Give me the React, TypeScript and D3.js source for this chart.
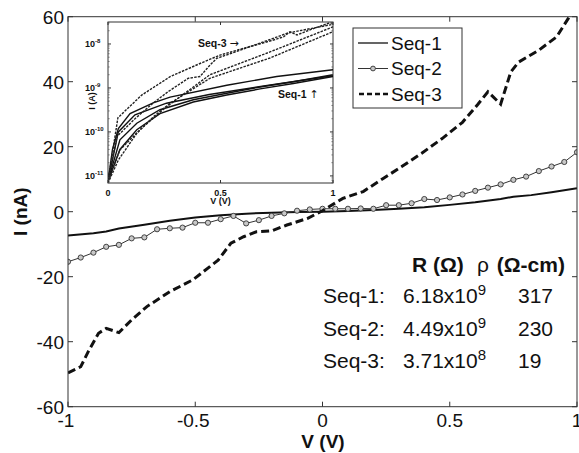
import React from 'react';
import * as d3 from 'd3';

// ---------- main plot data (V in volts, I in nA) ----------
const seq1V = [-1, -0.9, -0.85, -0.8, -0.7, -0.6, -0.5, -0.4, -0.3, -0.2, -0.1, 0, 0.1, 0.2, 0.3, 0.4, 0.5, 0.6, 0.7, 0.75, 0.82, 0.9, 1];
const seq1I = [-7.3, -6.6, -6.1, -5.2, -4.0, -2.8, -1.8, -1.1, -0.6, -0.3, -0.1, 0, 0.2, 0.5, 0.9, 1.4, 2.1, 2.9, 3.9, 4.6, 5.1, 6.0, 7.2];

const seq2V = [-1, -0.95, -0.9, -0.85, -0.8, -0.75, -0.7, -0.65, -0.6, -0.55, -0.5, -0.45, -0.4, -0.35, -0.3, -0.25, -0.2, -0.15, -0.1, -0.05, 0, 0.05, 0.1, 0.15, 0.2, 0.25, 0.3, 0.35, 0.4, 0.45, 0.5, 0.55, 0.6, 0.65, 0.7, 0.75, 0.8, 0.85, 0.9, 0.95, 1];
const seq2I = [-15.4, -14.1, -12.6, -10.8, -10.2, -8.2, -7.9, -5.4, -5.1, -4.9, -3.4, -3.4, -2.3, -1.3, -3.6, -2.6, -1.3, -0.5, 0.3, 0.7, 0.9, 0.9, 0.9, 1.0, 0.9, 2.0, 2.0, 2.6, 3.9, 3.6, 4.4, 5.3, 6.4, 7.4, 8.4, 9.8, 10.8, 12.5, 13.9, 15.3, 18.3];

const seq3V = [-1, -0.95, -0.92, -0.88, -0.85, -0.8, -0.75, -0.69, -0.6, -0.51, -0.41, -0.36, -0.31, -0.26, -0.2, -0.14, -0.06, 0, 0.08, 0.16, 0.24, 0.31, 0.39, 0.47, 0.55, 0.61, 0.65, 0.7, 0.74, 0.77, 0.85, 0.92, 0.97, 0.99];
const seq3I = [-49.6, -47.7, -43, -37.4, -35.9, -37.2, -33.3, -29.2, -24.6, -21, -14.9, -9.7, -7.7, -6.2, -5.9, -4.1, -2.1, 0.3, 4.1, 6.2, 10.3, 13.8, 18, 22.5, 27.5, 33, 36.9, 33.1, 43, 46, 49.7, 53.8, 60, 63];

const xTicks = [-1, -0.5, 0, 0.5, 1];
const yTicks = [-60, -40, -20, 0, 20, 40, 60];

// ---------- inset data (V in volts, I in A, log scale) ----------
const insD1V = [0, 0.044, 0.15, 0.276, 0.409, 0.498, 0.601, 0.735, 0.78, 0.809, 0.84, 0.898, 0.979, 1.0];
const insD1I = [7.4e-12, 2.1e-10, 6.9e-10, 1.8e-9, 3.6e-9, 5.6e-9, 7.9e-9, 1.23e-8, 1.45e-8, 1.9e-8, 1.6e-8, 2.1e-8, 2.95e-8, 3.0e-8];
const insD2V = [0, 0.04, 0.12, 0.2, 0.268, 0.357, 0.409, 0.453, 0.483, 0.6, 0.8, 1.0];
const insD2I = [7.4e-12, 7.9e-11, 2.0e-10, 4.5e-10, 8.3e-10, 1.66e-9, 1.82e-9, 3.3e-9, 4.7e-9, 7.6e-9, 1.78e-8, 2.8e-8];
const insD3V = [0, 0.053, 0.142, 0.253, 0.453, 0.72, 1.0];
const insD3I = [7.4e-12, 3.9e-11, 1.12e-10, 3.5e-10, 2.0e-9, 6.6e-9, 2.45e-8];
const insD4V = [0, 0.046, 0.128, 0.201, 0.276, 0.453, 0.72, 1.0];
const insD4I = [6.9e-12, 2.3e-11, 9.3e-11, 2.2e-10, 4.5e-10, 1.66e-9, 4.8e-9, 1.9e-8];

const insS1V = [0, 0.02, 0.046, 0.098, 0.201, 0.276, 0.528, 0.75, 1.0];
const insS1I = [7.4e-12, 4.0e-11, 1.2e-10, 2.6e-10, 4.6e-10, 6.2e-10, 1.15e-9, 1.82e-9, 2.6e-9];
const insS2V = [0, 0.053, 0.128, 0.231, 0.379, 0.528, 0.676, 0.824, 1.0];
const insS2I = [7.6e-12, 6.6e-11, 1.58e-10, 3.2e-10, 5.4e-10, 7.6e-10, 1.05e-9, 1.38e-9, 2.0e-9];
const insS3V = [0, 0.053, 0.128, 0.231, 0.379, 0.528, 0.676, 0.824, 1.0];
const insS3I = [7.6e-12, 4.0e-11, 1.12e-10, 2.6e-10, 4.8e-10, 6.9e-10, 9.5e-10, 1.26e-9, 1.82e-9];
const insS4V = [0, 0.046, 0.12, 0.26, 0.45, 0.7, 1.0];
const insS4I = [7.6e-12, 1.0e-10, 2.45e-10, 4.5e-10, 7.1e-10, 1.12e-9, 1.9e-9];

const insXTicks = [0, 0.5, 1];
const insYDecades = [-11, -10, -9, -8];

// ---------- text ----------
const legendLabels = ['Seq-1', 'Seq-2', 'Seq-3'];
const tableNames = ['Seq-1:', 'Seq-2:', 'Seq-3:'];
const tableRMant = ['6.18x10', '4.49x10', '3.71x10'];
const tableRExp = ['9', '9', '8'];
const tableRho = ['317', '230', '19'];

const FONT = 'Liberation Sans, Arial, Helvetica, sans-serif';

function zip(a: number[], b: number[]): [number, number][] {
  return a.map((v, i) => [v, b[i]]);
}

export default function App() {
  const W = 579, H = 453;
  const L = 68, R = 577, T = 16.7, B = 406.7;
  const x = d3.scaleLinear().domain([-1, 1]).range([L, R]);
  const y = d3.scaleLinear().domain([-60, 60]).range([B, T]);
  const line = d3.line<[number, number]>().x(d => x(d[0])).y(d => y(d[1]));

  // inset
  const iL = 108, iR = 333, iT = 22, iB = 183;
  const ix = d3.scaleLinear().domain([0, 1]).range([iL, iR]);
  const iy = d3.scaleLog().domain([6.9e-12, 3.16e-8]).range([iB, iT]);
  const iline = d3.line<[number, number]>().x(d => ix(d[0])).y(d => iy(d[1]));

  const minor: number[] = [];
  for (let e = -12; e <= -8; e++) {
    for (let m = 2; m <= 9; m++) {
      const v = m * Math.pow(10, e);
      if (v > 6.9e-12 && v < 3.16e-8) minor.push(v);
    }
  }

  const dashedIns = [zip(insD1V, insD1I), zip(insD2V, insD2I), zip(insD3V, insD3I), zip(insD4V, insD4I)];
  const solidIns = [zip(insS1V, insS1I), zip(insS2V, insS2I), zip(insS3V, insS3I), zip(insS4V, insS4I)];

  const s2 = zip(seq2V, seq2I);

  return (
    <svg width={W} height={H} style={{ position: 'absolute', left: 0, top: 0, background: '#fff' }} fontFamily={FONT}>
      <defs>
        <clipPath id="mainClip"><rect x={L} y={T} width={R - L} height={B - T} /></clipPath>
        <clipPath id="insClip"><rect x={iL} y={iT} width={iR - iL} height={iB - iT} /></clipPath>
      </defs>
      <rect x={0} y={0} width={W} height={H} fill="#fff" />

      {/* main series */}
      <g clipPath="url(#mainClip)">
        <path d={line(zip(seq1V, seq1I)) || ''} fill="none" stroke="#111" strokeWidth={2} />
        <path d={line(s2) || ''} fill="none" stroke="#333" strokeWidth={1} />
        {s2.map((d, i) => (
          <circle key={i} cx={x(d[0])} cy={y(d[1])} r={2.6} fill="#c8c8c8" stroke="#333" strokeWidth={0.9} />
        ))}
        <path d={line(zip(seq3V, seq3I)) || ''} fill="none" stroke="#111" strokeWidth={3} strokeDasharray="8,4" />
      </g>

      {/* main frame + ticks */}
      <rect x={L} y={T} width={R - L} height={B - T} fill="none" stroke="#333" strokeWidth={1} />
      {xTicks.map(t => (
        <g key={'xt' + t}>
          <line x1={x(t)} x2={x(t)} y1={B} y2={B - 5} stroke="#333" />
          <line x1={x(t)} x2={x(t)} y1={T} y2={T + 5} stroke="#333" />
          <text x={x(t) - (t < 0 ? 2 : 0)} y={427} fontSize={19} textAnchor="middle" fill="#111">{String(t)}</text>
        </g>
      ))}
      {yTicks.map(t => (
        <g key={'yt' + t}>
          <line x1={L} x2={L + 5} y1={y(t)} y2={y(t)} stroke="#333" />
          <line x1={R} x2={R - 5} y1={y(t)} y2={y(t)} stroke="#333" />
          <text x={64} y={y(t) + 6.8} fontSize={19} textAnchor="end" fill="#111">{String(t)}</text>
        </g>
      ))}
      <text x={323} y={448} fontSize={19} fontWeight="bold" textAnchor="middle" fill="#111">V (V)</text>
      <text transform="translate(27,211.7) rotate(-90)" fontSize={19} fontWeight="bold" textAnchor="middle" fill="#111">I (nA)</text>

      {/* inset */}
      <rect x={iL} y={iT} width={iR - iL} height={iB - iT} fill="#fff" stroke="#333" strokeWidth={1} />
      <g clipPath="url(#insClip)">
        {solidIns.map((d, i) => (
          <path key={'s' + i} d={iline(d) || ''} fill="none" stroke="#111" strokeWidth={1.4} />
        ))}
        {dashedIns.map((d, i) => (
          <path key={'d' + i} d={iline(d) || ''} fill="none" stroke="#222" strokeWidth={1.4} strokeDasharray="2.5,1.2" />
        ))}
      </g>
      {insXTicks.map(t => (
        <g key={'ixt' + t}>
          <line x1={ix(t)} x2={ix(t)} y1={iB} y2={iB - 3} stroke="#333" />
          <line x1={ix(t)} x2={ix(t)} y1={iT} y2={iT + 3} stroke="#333" />
          <text x={ix(t)} y={196} fontSize={9} fontWeight="bold" textAnchor="middle" fill="#111">{String(t)}</text>
        </g>
      ))}
      {insYDecades.map(e => {
        const yy = iy(Math.pow(10, e));
        return (
          <g key={'iyt' + e}>
            <line x1={iL} x2={iL + 3} y1={yy} y2={yy} stroke="#333" />
            <line x1={iR} x2={iR - 3} y1={yy} y2={yy} stroke="#333" />
            <text x={85} y={yy + 3.2} fontSize={9} fontWeight="bold" fill="#111">
              10<tspan dy={-4} fontSize={6}>{String(e)}</tspan>
            </text>
          </g>
        );
      })}
      {minor.map((v, i) => (
        <g key={'mn' + i}>
          <line x1={iL} x2={iL + 1.6} y1={iy(v)} y2={iy(v)} stroke="#555" strokeWidth={0.7} />
          <line x1={iR} x2={iR - 1.6} y1={iy(v)} y2={iy(v)} stroke="#555" strokeWidth={0.7} />
        </g>
      ))}
      <text x={ix(0.5)} y={204} fontSize={9} fontWeight="bold" textAnchor="middle" fill="#111">V (V)</text>
      <text transform="translate(95,101) rotate(-90)" fontSize={9} fontWeight="bold" textAnchor="middle" fill="#111">I (A)</text>
      <text x={198} y={47} fontSize={10.5} fontWeight="bold" fill="#111">
        Seq-3 <tspan fontFamily="DejaVu Sans" fontWeight="normal" fontSize={11}>→</tspan>
      </text>
      <text x={278} y={98} fontSize={10.5} fontWeight="bold" fill="#111">
        Seq-1 <tspan fontFamily="DejaVu Sans" fontWeight="normal" fontSize={11}>↑</tspan>
      </text>

      {/* legend */}
      <rect x={353} y={28} width={109} height={80} fill="#fff" stroke="#333" strokeWidth={1} />
      {legendLabels.map((lab, i) => {
        const cy = 43 + i * 25.5;
        return (
          <g key={lab}>
            {i === 0 && <line x1={358} x2={388} y1={cy} y2={cy} stroke="#111" strokeWidth={1.3} />}
            {i === 1 && (
              <g>
                <line x1={358} x2={388} y1={cy} y2={cy} stroke="#333" strokeWidth={1} />
                <circle cx={373} cy={cy} r={2.4} fill="#c8c8c8" stroke="#333" strokeWidth={0.9} />
              </g>
            )}
            {i === 2 && <line x1={359} x2={388} y1={cy} y2={cy} stroke="#111" strokeWidth={2.6} strokeDasharray="5,3" />}
            <text x={391} y={cy + 6.8} fontSize={19} fill="#111">{lab}</text>
          </g>
        );
      })}

      {/* table */}
      <text x={412} y={272} fontSize={21} fontWeight="bold" fill="#111">R (Ω)</text>
      <text x={477} y={272} fontSize={21} fill="#111">
        <tspan>ρ</tspan><tspan fontWeight="bold" dx={2}> (Ω-cm)</tspan>
      </text>
      {tableNames.map((n, i) => {
        const yy = [303, 336, 368][i];
        return (
          <g key={n}>
            <text x={323} y={yy} fontSize={21} fill="#111">{n}</text>
            <text x={403} y={yy} fontSize={21} fill="#111">
              {tableRMant[i]}<tspan dy={-8} fontSize={15}>{tableRExp[i]}</tspan>
            </text>
            <text x={518} y={yy} fontSize={21} fill="#111">{tableRho[i]}</text>
          </g>
        );
      })}
    </svg>
  );
}
